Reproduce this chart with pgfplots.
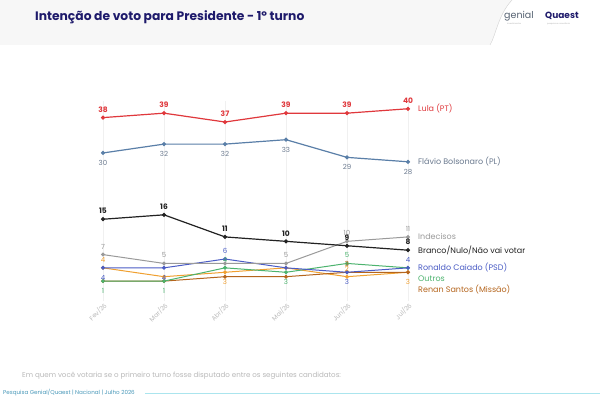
\documentclass[border=0pt]{standalone}
\usepackage{pgfplots}
\usepackage{pgfplotstable}
\pgfplotsset{compat=1.18}
\usepackage{fontspec}
\setmainfont{Poppins}
\definecolor{lula}{HTML}{E0383C}
\definecolor{flavio}{HTML}{5A7FA8}
\definecolor{flaviot}{HTML}{6B7A8F}
\definecolor{branco}{HTML}{222222}
\definecolor{indec}{HTML}{9A9A9A}
\definecolor{ronaldo}{HTML}{4A5CC5}
\definecolor{outros}{HTML}{4CB36E}
\definecolor{laranja}{HTML}{F0A030}
\definecolor{renan}{HTML}{B5651D}
\definecolor{navy}{HTML}{1E1A6B}

\pgfplotstableread{
x y dy lab
0 38 8 38
1 39 8 39
2 37 8 37
3 39 8 39
4 39 8 39
5 40 8 40
}\tlula
\pgfplotstableread{
x y dy lab
0 30 -10 30
1 32 -10 32
2 32 -10 32
3 33 -10 33
4 29 -10 29
5 28 -10 28
}\tflavio
\pgfplotstableread{
x y dy lab
0 15 8 15
1 16 8 16
2 11 8 11
3 10 8 10
4 9 8 9
5 8 8 8
}\tbranco
\pgfplotstableread{
x y dy lab
0 7 8 7
1 5 8 5
2 5 8 {}
3 5 8 5
4 10 8 10
5 11 8 11
}\tindec
\pgfplotstableread{
x y dy lab
0 4 -10 4
1 4 -10 4
2 6 8 6
3 4 8 {}
4 3 -10 3
5 4 8 4
}\tronaldo
\pgfplotstableread{
x y dy lab
0 1 -10 1
1 1 -10 1
2 4 8 4
3 3 -10 3
4 5 8 5
5 4 8 {}
}\toutros
\pgfplotstableread{
x y dy lab
0 4 8 4
1 2 8 {}
2 3 -10 3
3 4 8 {}
4 2 8 2
5 3 -10 3
}\tlaranja
\pgfplotstableread{
x y dy lab
0 1 8 {}
1 1 8 {}
2 2 8 {}
3 2 8 {}
4 3 8 3
5 3 8 {}
}\trenan

\begin{document}
\begin{tikzpicture}
\useasboundingbox (0,0) rectangle (600pt,400pt);
\begin{scope}[x=1pt,y=-1pt,shift={(0pt,400pt)}]
\fill[white] (0,0) rectangle (600,400);
\fill[gray!6] (0,0) -- (512,0) .. controls (498,15) and (496,35) .. (490,45) -- (0,45) -- cycle;
\draw[gray!35, line width=0.4pt] (512,0) .. controls (498,15) and (496,35) .. (490,45);
\node[anchor=west, text=navy, font=\fontsize{12.3}{14}\selectfont\bfseries, inner sep=0pt] at (35,17) {Intenção de voto para Presidente - 1º turno};
\node[anchor=west, text=flaviot!80!black, font=\fontsize{9.5}{10}\selectfont, inner sep=0pt] at (504,16) {genial};
\node[anchor=west, text=navy, font=\fontsize{9}{10}\selectfont\bfseries, inner sep=0pt] at (545,16) {Quaest};
\node[anchor=west, text=gray!60, font=\fontsize{2}{2}\selectfont, inner sep=0pt] at (507,24) {investimentos};
\node[anchor=west, text=gray!60, font=\fontsize{2}{2}\selectfont, inner sep=0pt] at (547,24) {pesquisa e consultoria};
\node[anchor=west, text=gray!55, font=\fontsize{7.1}{8}\selectfont, inner sep=0pt] at (22,376) {Em quem você votaria se o primeiro turno fosse disputado entre os seguintes candidatos:};
\node[anchor=west, text=flavio!80!cyan, font=\fontsize{5.6}{6}\selectfont, inner sep=0pt] at (3,393) {Pesquisa Genial/Quaest | Nacional | Julho 2026};
\draw[flavio!50!cyan!40, line width=0.6pt] (145,393) -- (600,393);
\end{scope}

\begin{axis}[
  at={(103pt,99pt)}, anchor=south west,
  scale only axis, width=305pt, height=200.2pt,
  xmin=0, xmax=5, ymin=-3.5, ymax=41.8,
  clip=false,
  axis line style={draw=none},
  ytick=\empty,
  xtick={0,1,2,3,4,5},
  xticklabels={Fev/26,Mar/26,Abr/26,Mai/26,Jun/26,Jul/26},
  x tick label style={rotate=45, anchor=north east, font=\fontsize{6.3}{7}\selectfont, text=gray!55, inner sep=0.5pt},
  major tick length=0pt,
  xmajorgrids, grid style={gray!12, line width=0.5pt},
  every axis plot/.append style={line width=1pt, mark=*, mark size=1.4pt},
  lab/.style={forget plot, draw=none, mark=none, nodes near coords, point meta=explicit symbolic,
     every node near coord/.append style={anchor=center, font=\fontsize{7}{8}\selectfont, inner sep=0pt, text=#1}},
]
\newcommand{\series}[3]{%
  \addplot[color=#1, mark options={fill=#1}, #3] table[x=x,y=y]{#2};
}
\newcommand{\labels}[3]{%
  \addplot[lab=#1, #3] table[x=x, y expr=\thisrow{y}+\thisrow{dy}/4.42, meta=lab]{#2};
}
\series{laranja}{\tlaranja}{}
\series{renan}{\trenan}{}
\series{outros}{\toutros}{}
\series{ronaldo}{\tronaldo}{}
\series{indec}{\tindec}{}
\series{branco}{\tbranco}{line width=1.2pt}
\series{flavio}{\tflavio}{line width=1.2pt}
\series{lula}{\tlula}{line width=1.2pt}
\labels{laranja}{\tlaranja}{}
\labels{renan}{\trenan}{}
\labels{outros}{\toutros}{}
\labels{ronaldo}{\tronaldo}{}
\labels{indec}{\tindec}{}
\labels{branco}{\tbranco}{every node near coord/.append style={font=\fontsize{7.5}{8}\selectfont\bfseries}}
\labels{flaviot}{\tflavio}{}
\labels{lula}{\tlula}{every node near coord/.append style={font=\fontsize{7.5}{8}\selectfont\bfseries}}

\begin{scope}[every node/.style={anchor=west, inner sep=0pt, font=\fontsize{8}{9}\selectfont}]
\node[text=lula] at (axis cs:5,40) [xshift=10pt] {Lula (PT)};
\node[text=flaviot] at (axis cs:5,28) [xshift=10pt] {Flávio Bolsonaro (PL)};
\node[text=indec] at (axis cs:5,11) [xshift=10pt] {Indecisos};
\node[text=branco] at (axis cs:5,8) [xshift=10pt] {Branco/Nulo/Não vai votar};
\node[text=ronaldo] at (axis cs:5,4.1) [xshift=10pt] {Ronaldo Caiado (PSD)};
\node[text=outros] at (axis cs:5,1.6) [xshift=10pt] {Outros};
\node[text=renan] at (axis cs:5,-0.9) [xshift=10pt] {Renan Santos (Missão)};
\end{scope}
\end{axis}
\end{tikzpicture}
\end{document}
